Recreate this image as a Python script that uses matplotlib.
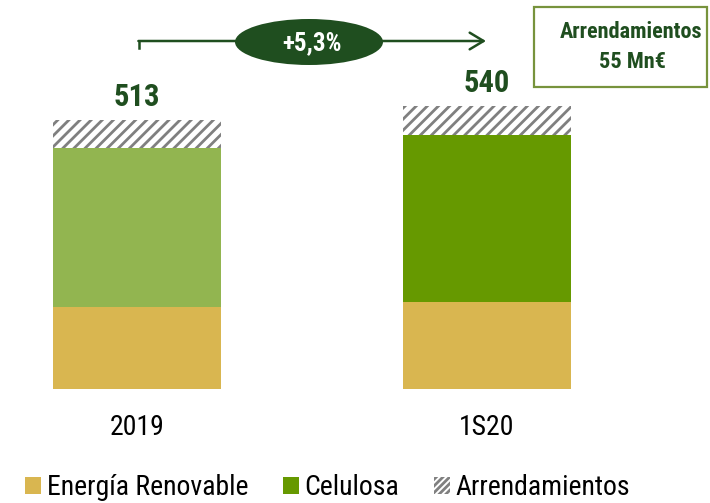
import matplotlib
matplotlib.use("Agg")
import matplotlib.pyplot as plt
from matplotlib.patches import Ellipse, Rectangle, FancyArrowPatch, Patch

# data
periodos = ['2019', '1S20']
energia = [157, 166]
celulosa = [302, 319]
arrendamientos = [54, 55]
totales = [513, 540]
variacion = '+5,3%'

c_energia = '#D9B650'
c_celulosa = ['#92B550', '#669900']
c_hatch = '#808080'
c_texto = '#1F4E1F'

plt.rcParams['font.family'] = ['Roboto Condensed', 'Liberation Sans', 'DejaVu Sans']
plt.rcParams['hatch.linewidth'] = 2.0

W, H = 710, 503
fig = plt.figure(figsize=(W / 100, H / 100), dpi=100)

# axes: bar bottom at y=389px, 0.524 px per unit
ax = fig.add_axes([0, 114 / H, 1, 389 / H])
ax.set_xlim(-0.3914, 1.637)
ax.set_ylim(0, 389 / 0.524)
for s in ax.spines.values():
    s.set_visible(False)
ax.set_yticks([])

x = range(len(periodos))
w = 0.48
ax.bar(x, energia, width=w, color=c_energia, linewidth=0)
bott = energia
ax.bar(x, celulosa, width=w, bottom=bott, color=c_celulosa, linewidth=0)
bott = [a + b for a, b in zip(energia, celulosa)]
ax.bar(x, arrendamientos, width=w, bottom=bott, color='white', edgecolor=c_hatch,
       hatch='///', linewidth=0)

for i, t in enumerate(totales):
    ax.annotate(str(t), (i, t), xytext=(0, 6), textcoords='offset points',
                ha='center', va='bottom', fontsize=22, fontweight='bold', color=c_texto)

ax.set_xticks(list(x))
ax.set_xticklabels(periodos, fontsize=20)
ax.tick_params(axis='x', length=0, pad=18)


def fx(px):
    return px / W


def fy(py):
    return 1 - py / H


# growth arrow
fig.add_artist(plt.Line2D([fx(139), fx(139)], [fy(48), fy(41)], color=c_texto, lw=1.8))
arr = FancyArrowPatch((fx(138.4), fy(41)), (fx(486), fy(41)), transform=fig.transFigure,
                      arrowstyle='->,head_length=10,head_width=6', color=c_texto, lw=1.8,
                      mutation_scale=1, shrinkA=0, shrinkB=0)
fig.add_artist(arr)
fig.add_artist(Ellipse((fx(309), fy(42)), 148 / W, 46 / H, transform=fig.transFigure,
                       facecolor=c_texto, edgecolor='none'))
fig.text(fx(312), fy(43), variacion, ha='center', va='center', fontsize=18,
         fontweight='bold', color='white')

# note box
fig.add_artist(Rectangle((fx(534), fy(87)), 173 / W, 80 / H, transform=fig.transFigure,
                         facecolor='white', edgecolor='#77933C', lw=1.6))
fig.text(fx(631), fy(32), 'Arrendamientos', ha='center', va='center', fontsize=16,
         fontweight='bold', color=c_texto)
fig.text(fx(632), fy(62), f'{arrendamientos[1]} Mn€', ha='center', va='center', fontsize=16,
         fontweight='bold', color=c_texto)

# legend
handles = [Patch(facecolor=c_energia, linewidth=0),
           Patch(facecolor=c_celulosa[1], linewidth=0),
           Patch(facecolor='white', edgecolor=c_hatch, hatch='/////', linewidth=0)]
fig.legend(handles, ['Energía Renovable', 'Celulosa', 'Arrendamientos'],
           loc='lower left', bbox_to_anchor=(fx(14), -0.019), ncol=3, frameon=False,
           fontsize=20, handlelength=0.58, handleheight=0.58, handletextpad=0.2,
           columnspacing=1.25, borderaxespad=0.0)

fig.savefig('out.png', dpi=100)
